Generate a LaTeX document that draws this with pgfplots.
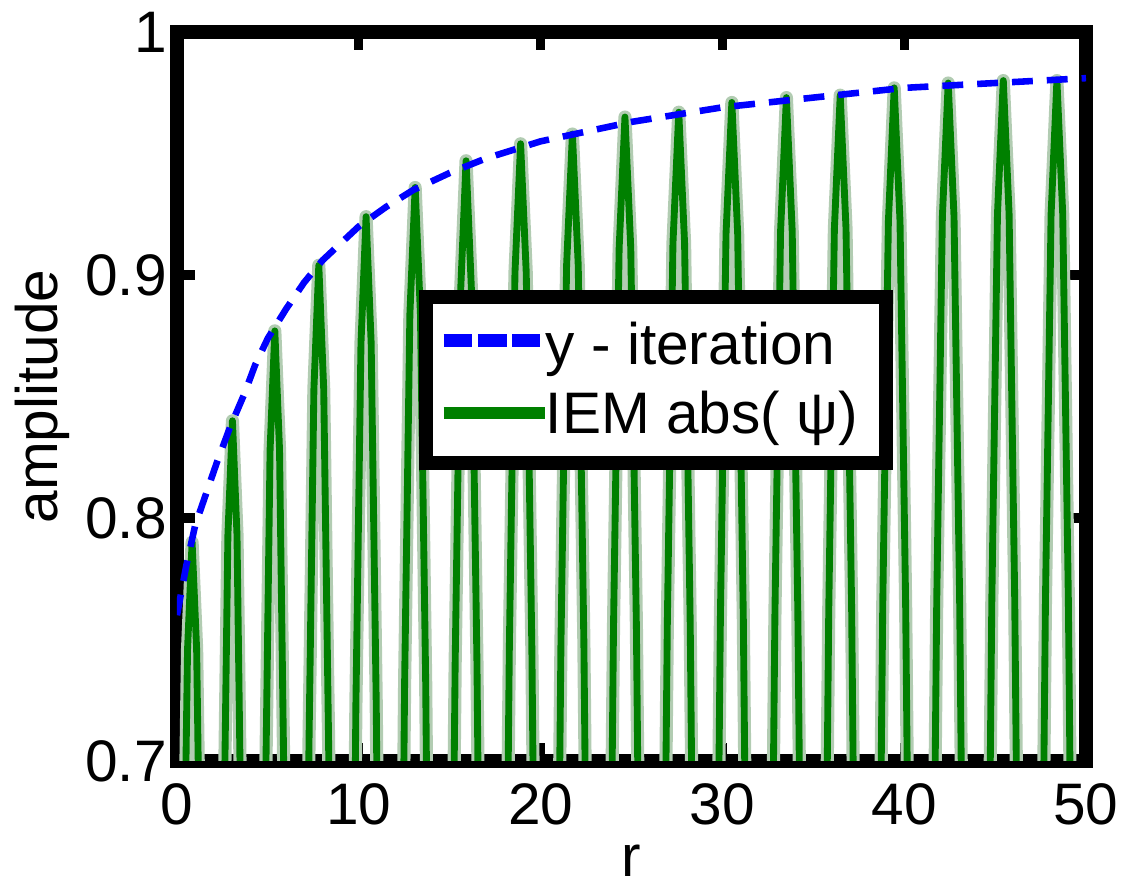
\documentclass[border=0pt]{standalone}
\usepackage{fontspec}
\setmainfont{Liberation Sans}
\usepackage{pgfplots}
\pgfplotsset{compat=1.18}
\definecolor{mgreen}{RGB}{0,128,0}
\definecolor{lgreen}{RGB}{178,204,178}
\definecolor{mblue}{RGB}{0,0,255}
\newcommand{\fs}{\fontsize{20.5}{24.6}\selectfont}
\pgfplotstableread{
r a
0 0.40
0.09 0.423
0.34 0.618
0.58 0.746
0.83 0.790
1.08 0.746
1.32 0.618
1.57 0.423
2.31 0.450
2.56 0.657
2.80 0.793
3.05 0.840
3.30 0.793
3.54 0.657
3.79 0.450
4.61 0.470
4.87 0.686
5.12 0.828
5.38 0.877
5.64 0.828
5.89 0.686
6.15 0.470
7.00 0.485
7.26 0.707
7.53 0.853
7.80 0.904
8.07 0.853
8.34 0.707
8.60 0.485
9.57 0.495
9.84 0.723
10.12 0.872
10.40 0.924
10.68 0.872
10.96 0.723
11.23 0.495
12.24 0.502
12.52 0.732
12.81 0.884
13.10 0.936
13.39 0.884
13.68 0.732
13.96 0.502
15.00 0.507
15.30 0.740
15.60 0.893
15.90 0.947
16.20 0.893
16.50 0.740
16.80 0.507
17.97 0.511
18.28 0.746
18.59 0.901
18.90 0.954
19.21 0.901
19.52 0.746
19.83 0.511
20.81 0.513
21.12 0.749
21.43 0.904
21.75 0.958
22.07 0.904
22.38 0.749
22.69 0.513
23.70 0.517
24.01 0.755
24.32 0.911
24.64 0.965
24.96 0.911
25.27 0.755
25.58 0.517
26.66 0.518
26.97 0.756
27.28 0.913
27.60 0.967
27.92 0.913
28.23 0.756
28.54 0.518
29.58 0.520
29.89 0.759
30.20 0.917
30.52 0.971
30.84 0.917
31.15 0.759
31.46 0.520
32.58 0.521
32.89 0.761
33.20 0.918
33.52 0.973
33.84 0.918
34.15 0.761
34.46 0.521
35.54 0.522
35.85 0.762
36.16 0.919
36.48 0.974
36.80 0.919
37.11 0.762
37.42 0.522
38.51 0.524
38.82 0.764
39.13 0.922
39.45 0.977
39.77 0.922
40.08 0.764
40.39 0.524
41.48 0.525
41.79 0.766
42.10 0.924
42.42 0.979
42.74 0.924
43.05 0.766
43.36 0.525
44.51 0.525
44.82 0.766
45.13 0.925
45.45 0.980
45.77 0.925
46.08 0.766
46.39 0.525
47.46 0.525
47.77 0.766
48.08 0.925
48.40 0.980
48.72 0.925
49.03 0.766
49.34 0.525
50 0.45
}\iemdata
\begin{document}
\begin{tikzpicture}
\begin{axis}[
  scale only axis,
  width=318.15pt, height=255.15pt,
  xmin=0, xmax=50, ymin=0.7, ymax=1,
  xtick={0,10,20,30,40,50}, ytick={0.7,0.8,0.9,1},
  xticklabels={0,10,20,30,40,50}, yticklabels={0.7,0.8,0.9,1},
  /pgf/number format/assume math mode=true,
  axis line style={line width=4.9pt},
  tick pos=both, tick align=inside,
  major tick length=6.3pt,
  every tick/.style={black, line width=3.2pt},
  tick label style={font=\fs, inner sep=0pt},
  xticklabel style={yshift=-7.7pt},
  yticklabel style={xshift=-3.4pt},
  xlabel={r}, ylabel={amplitude},
  xlabel style={font=\fs, inner sep=0pt, at={(axis description cs:0.5,-0.1372)}, anchor=center},
  ylabel style={font=\fs, inner sep=0pt, at={(axis description cs:-0.1485,0.5)}, anchor=center},
  reverse legend,
  legend cell align=left,
  legend style={at={(axis description cs:0.266,0.646)}, anchor=north west,
    draw=black, line width=4.9pt, fill=white, font=\fs,
    inner xsep=4pt, inner ysep=8.9pt, row sep=7.65pt, column sep=-3pt,
    nodes={inner xsep=1pt, inner ysep=0pt}},
]
\addplot[lgreen, line width=4.6pt, line join=round, forget plot] table[x=r, y=a] {\iemdata};
\addplot[mgreen, line width=2.4pt, line join=round,
  legend image code/.code={\draw[mgreen, line width=4.5pt] (0pt,0.5pt) -- (35.5pt,0.5pt);}]
  table[x=r, y=a] {\iemdata};
\addlegendentry{IEM abs( ψ)\hspace*{5pt}}
\addplot[mblue, line width=2.3pt, dash pattern=on 7.3pt off 4.9pt,
  legend image code/.code={\draw[mblue, line width=4.5pt, dash pattern=on 10pt off 2pt] (0pt,1.8pt) -- (33.8pt,1.8pt);}]
coordinates {
(0,0.760) (0.5,0.780) (1,0.797) (1.6,0.810) (2.2,0.823) (2.9,0.837) (3.7,0.851)
(4.3,0.863) (5,0.874) (6,0.886) (7,0.897) (8,0.906) (9,0.913) (10,0.920)
(11.5,0.928) (13,0.935) (15,0.942) (17,0.948) (20,0.955) (22.5,0.959) (25,0.963)
(27.5,0.966) (30,0.969) (32.5,0.971) (35,0.973) (37.5,0.975) (40,0.977)
(42.5,0.978) (45,0.979) (47.5,0.980) (50,0.981)
};
\addlegendentry{y - iteration}
\coordinate (O) at (rel axis cs:0,0);
\coordinate (P) at (rel axis cs:1,1);
\end{axis}
\pgfresetboundingbox
\path[use as bounding box] ([shift={(-61.95pt,-44.1pt)}]O) rectangle ([shift={(15.4pt,11.2pt)}]P);
\end{tikzpicture}
\end{document}
